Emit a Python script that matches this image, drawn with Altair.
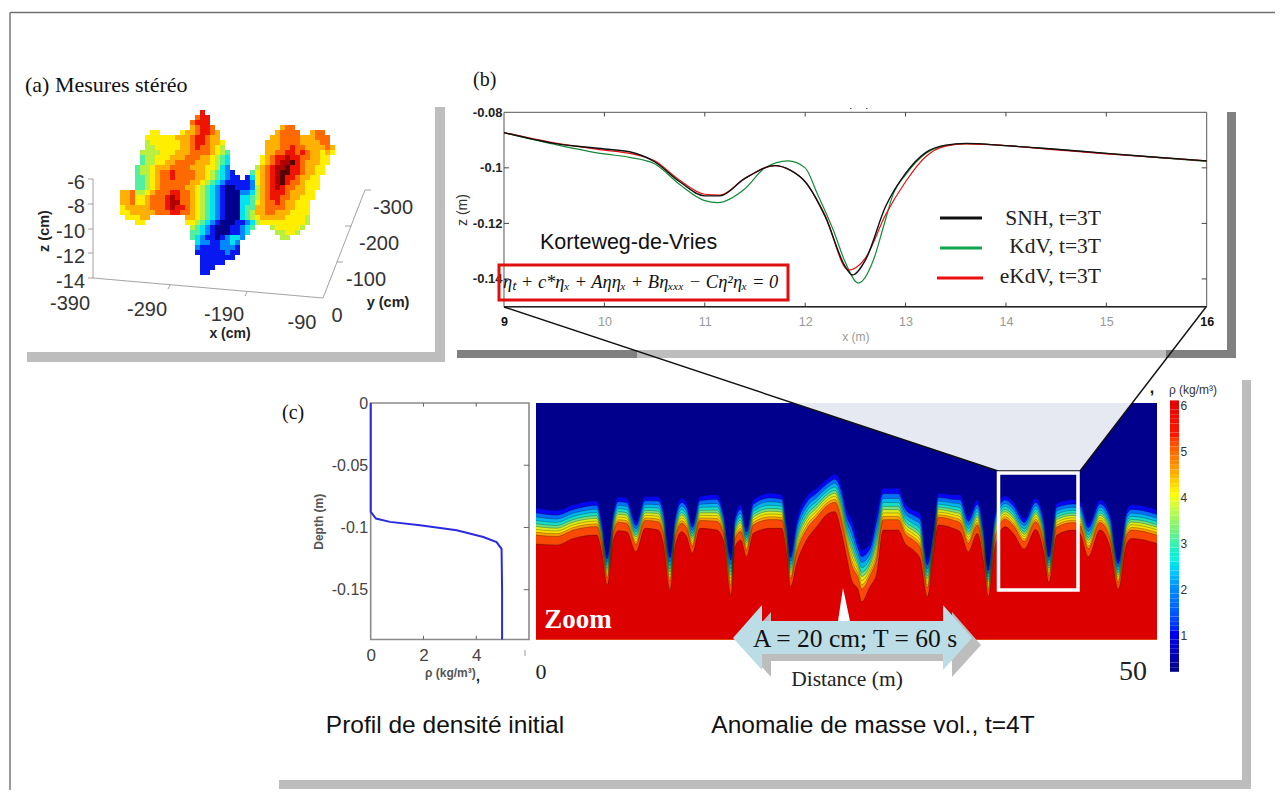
import altair as alt
import numpy as np
import pandas as pd

W, H = 1267, 782
SERIF, SANS = "Liberation Serif", "Liberation Sans"

# ---------- panel (b) curves ----------
snh_x = [9, 9.5, 10, 10.25, 10.5, 10.75, 11, 11.15, 11.4, 11.7, 11.85, 12, 12.2, 12.4, 12.47, 12.6, 12.8, 13, 13.2, 13.4, 13.6, 14, 14.5, 15, 15.5, 16]
snh_z = [-0.0873, -0.0912, -0.0932, -0.0942, -0.0978, -0.1050, -0.1101, -0.1101, -0.1038, -0.0992, -0.1008, -0.1050, -0.1176, -0.1356, -0.1386, -0.1332, -0.1140, -0.1020, -0.0945, -0.0918, -0.0912, -0.0920, -0.0933, -0.0948, -0.0962, -0.0975]
kdv_x = [9, 9.5, 10, 10.25, 10.5, 10.75, 11, 11.13, 11.4, 11.6, 11.83, 12, 12.12, 12.28, 12.4, 12.53, 12.68, 12.78, 12.88, 13, 13.2, 13.4, 13.6, 14, 14.5, 15, 15.5, 16]
kdv_z = [-0.0873, -0.0915, -0.0950, -0.0962, -0.0985, -0.1060, -0.1118, -0.1125, -0.1075, -0.1000, -0.0975, -0.1000, -0.1092, -0.1224, -0.1340, -0.1415, -0.1332, -0.1212, -0.1092, -0.1025, -0.0948, -0.0920, -0.0913, -0.0920, -0.0933, -0.0948, -0.0962, -0.0977]
ekdv_x = [9, 9.5, 10, 10.25, 10.5, 10.75, 11, 11.15, 11.4, 11.7, 11.85, 12, 12.2, 12.43, 12.6, 12.8, 13, 13.2, 13.4, 13.6, 14, 14.5, 15, 15.5, 16]
ekdv_z = [-0.0873, -0.0910, -0.0936, -0.0948, -0.0975, -0.1045, -0.1095, -0.1098, -0.1038, -0.0992, -0.1008, -0.1050, -0.1172, -0.1368, -0.1325, -0.1170, -0.1050, -0.0960, -0.0922, -0.0914, -0.0920, -0.0935, -0.0950, -0.0962, -0.0975]

# ---------- panel (c) density profile ----------
rho_vals = [0, 0, 0.2, 0.73, 1.87, 3.26, 4.27, 4.77, 4.96, 4.98, 4.98]
rho_depth = [0, -0.0874, -0.0928, -0.0955, -0.0982, -0.1023, -0.1077, -0.1118, -0.1172, -0.15, -0.19]

# ---------- panel (c) anomaly field: top and bottom of the pycnocline ----------
field_x = [0.0, 1.66, 3.01, 4.89, 5.29, 5.74, 6.23, 6.63, 7.30, 8.05, 8.78, 9.85, 10.25, 10.79, 11.19, 11.73, 12.13, 12.59, 13.20, 14.55, 15.08, 15.70, 16.02, 16.48, 16.96, 17.50, 18.84, 19.78, 20.18, 20.50, 20.99, 21.79, 22.60, 23.54, 24.07, 24.61, 25.01, 25.42, 25.95, 26.22, 26.89, 27.43, 27.96, 29.17, 29.71, 30.38, 30.92, 31.51, 32.0, 32.39, 33.6, 34.14, 34.81, 35.53, 36.02, 36.42, 36.95, 37.76, 38.43, 39.32, 40.23, 40.85, 41.30, 41.92, 43.26, 43.8, 44.47, 45.41, 46.21, 46.88, 47.56, 47.96, 50.0]
field_top = [-.0846, -.0865, -.0820, -.0787, -.0940, -.1222, -.0873, -.0758, -.0766, -.0954, -.0753, -.0753, -.0846, -.1208, -.0913, -.0766, -.0806, -.0967, -.0753, -.0739, -.0873, -.1222, -.0913, -.0820, -.1007, -.0779, -.0726, -.0739, -.0967, -.1208, -.0940, -.0753, -.0686, -.0605, -.0573, -.0672, -.0860, -.0940, -.1128, -.1181, -.1128, -.0887, -.0686, -.0686, -.0807, -.0861, -.0887, -.1263, -.1021, -.0727, -.0740, -.0740, -.0914, -.0780, -.0995, -.1316, -.0887, -.0748, -.0794, -.0928, -.0767, -.0914, -.1209, -.0807, -.0780, -.0794, -.0968, -.0780, -.0887, -.1263, -.0861, -.0820, -.0861]
field_bot = [-.1133, -.1141, -.1088, -.1061, -.1195, -.1463, -.1101, -.1026, -.1034, -.1195, -.1007, -.1021, -.1128, -.1503, -.1155, -.1034, -.1074, -.1208, -.1007, -.1021, -.1101, -.1543, -.1155, -.1101, -.1235, -.1047, -.1007, -.1007, -.1208, -.1476, -.1289, -.1101, -.0994, -.0887, -.0873, -.1047, -.1235, -.1423, -.1503, -.1597, -.1476, -.1369, -.1021, -.1021, -.1129, -.1182, -.1249, -.1557, -.1209, -.0981, -.1008, -.1035, -.1196, -.1048, -.1263, -.1557, -.1155, -.0995, -.1048, -.1174, -.1016, -.1182, -.1442, -.1062, -.1021, -.1048, -.1236, -.1021, -.1155, -.1498, -.1129, -.1088, -.1129]
band_frac = [0.0, 0.13, 0.24, 0.34, 0.43, 0.51, 0.59, 0.67, 0.75, 1.0]
band_cols = ["#0606f0", "#0070ff", "#00b4f0", "#18e0c8", "#70e080", "#d8ee20", "#ffe000", "#ffa000", "#f84a04", "#dc0000"]

# ---------- panel (a) surface, coded colour levels per row: "start:levels" ----------
surface_rows = [
    "16:9", "15:899", "14:8999", "14:78998 32:788",
    "6:66 12:67789987 31:78888 38:788",
    "5:666666777899877 30:7788887 37:77888",
    "5:5666666778998776 29:7778888777788",
    "5:5566666778988765 29:77788988777787",
    "4:555566677788887654 29:77889989877676",
    "4:455666777888776543 28:67899a99887766",
    "4:455667788887776543 28:6789aab9877766",
    "3:4556777888877766532 27:5789aab9987766",
    "3:45567889888877654321 26:46789abb9987766",
    "3:445678898888776543211 25:1 26:36789ab9987766",
    "3:4456788888877654321111 25:126789ab9887666",
    "3:445678888877654321001 24:112 27:5789a98877666",
    "0:778556788899887654321000 24:223 27:578999877766",
    "0:7786678889a9887654321000 24:334 27:578998877666",
    "0:7786678889aa887654321000 24:334 27:67889877666",
    "0:6777778889a9987654321000 24:344 27:77888877666",
    "0:667777788899887654321000 24:345 27:77887776666",
    "1:66677 13:77654321000 24:345 27:67777766665",
    "3:66 13:665432100011235666 31:6666665",
    "14:5432100011234 30:5666665",
    "14:443210001123 31:55665",
    "14:43211012332 32:55",
    "15:322112232", "15:211112221", "15:111111211",
    "16:1111111", "16:11111", "16:111", "16:11",
]
surface_cols = ["#00008c", "#0818f0", "#0088ff", "#00e4f0", "#50f0a0", "#b8f040", "#ffee00", "#ffb000", "#ff6a00", "#ee1400", "#b00000", "#580000"]
LEVELS = "0123456789ab"

# ---------- texts ----------
serif_left = [("(a) Mesures stéréo", 25, 85, 22, "#111"), ("(b)", 473, 80, 20, "#111"), ("(c)", 282, 413, 20, "#111")]
serif_center = [("A = 20 cm; T = 60 s", 855, 639, 25.5, "#111"), ("Distance (m)", 847, 680, 21.5, "#222"), ("0", 541, 672, 22, "#222"), ("50", 1133, 672, 28, "#222")]
serif_right = [("SNH, t=3T", 1101, 219, 21.5, "#222"), ("KdV, t=3T", 1101, 247, 21.5, "#222"), ("eKdV, t=3T", 1101, 277, 21.5, "#222")]
sans_center = [("Profil de densité initial", 445, 726, 24.5, "#111"), ("Anomalie de masse vol., t=4T", 873, 726, 24.5, "#111"),
               ("-390", 70, 304, 20, "#333"), ("-290", 147, 310, 20, "#333"), ("-190", 224, 315, 20, "#333"), ("-90", 302, 323, 20, "#333"), ("0", 337, 316, 20, "#333"),
               ("-300", 393, 208, 20, "#333"), ("-200", 379, 244, 20, "#333"), ("-100", 366, 280, 20, "#333"),
               ("ρ (kg/m³)", 1193, 390, 12, "#333")]
sans_right = [("-6", 85, 183, 20, "#333"), ("-8", 85, 207, 20, "#333"), ("-10", 85, 232, 20, "#333"), ("-12", 85, 257, 20, "#333"), ("-14", 85, 282, 20, "#333")]
bold_center = [("y (cm)", 388, 303, 14.5, "#222"), ("x (cm)", 230, 334, 14, "#222"), (",", 1152, 388, 16, "#111"), (",", 478, 677, 14, "#111")]
kdv_title = [("Korteweg-de-Vries", 540, 243, 21.5, "#111")]
formula = [("ηₜ + c*ηₓ + Aηηₓ + Bηₓₓₓ − Cη²ηₓ = 0", 503, 282, 18.5, "#111")]

HYPHEN = "replace(datum.label, '\u2212', '-')"

# ---------- scales ----------
def figx():
    return alt.Scale(domain=[8, 8 + W], range=[0, W], nice=False, zero=False)
def figy():
    return alt.Scale(domain=[8, 8 + H], range=[0, H], nice=False, zero=False)
def sc(dom, a, b):
    return alt.Scale(domain=dom, range=[a - 8, b - 8], nice=False, zero=False)
def bx(): return sc([9, 16], 504, 1206.7)
def by(): return sc([-0.15, -0.08], 306.7, 112.3)
def px_(): return sc([0, 6], 370.7, 529)
def dy(): return sc([-0.19, 0], 639.5, 403)
def fx_(): return sc([0, 50], 536, 1157)
def cby(): return sc([0.2, 6.1], 671.8, 400.4)

def fig_text(rows, font, align="center", weight="normal", style="normal", angle=0):
    df = pd.DataFrame(rows, columns=["t", "x", "y", "s", "c"])
    return alt.Chart(df).mark_text(font=font, align=align, baseline="middle", fontWeight=weight, fontStyle=style, angle=angle).encode(
        x=alt.X("x:Q", scale=figx(), axis=None), y=alt.Y("y:Q", scale=figy(), axis=None),
        text="t:N", size=alt.Size("s:Q", scale=None), color=alt.Color("c:N", scale=None))

def fig_rect(rows):
    df = pd.DataFrame(rows, columns=["x", "x2", "y", "y2", "c"])
    return alt.Chart(df).mark_rect().encode(
        x=alt.X("x:Q", scale=figx(), axis=None), x2="x2:Q",
        y=alt.Y("y:Q", scale=figy(), axis=None), y2="y2:Q", color=alt.Color("c:N", scale=None))

def fig_rule(rows, width=1.0):
    df = pd.DataFrame(rows, columns=["x", "x2", "y", "y2", "c"])
    return alt.Chart(df).mark_rule(strokeWidth=width).encode(
        x=alt.X("x:Q", scale=figx(), axis=None), x2="x2:Q",
        y=alt.Y("y:Q", scale=figy(), axis=None), y2="y2:Q", color=alt.Color("c:N", scale=None))

def fig_area(xs, ys, y2s, color):
    df = pd.DataFrame({"x": xs, "ya": ys, "yb": y2s})
    return alt.Chart(df).mark_area(color=color, interpolate="linear").encode(
        x=alt.X("x:Q", scale=figx(), axis=None), y=alt.Y("ya:Q", scale=figy(), axis=None, stack=None), y2="yb:Q")

def frame(xdom, ydom, xs, ys, color, width=1.0):
    df = pd.DataFrame({"x": [xdom[0]], "x2": [xdom[1]], "y": [ydom[0]], "y2": [ydom[1]]})
    return alt.Chart(df).mark_rect(fill="white", stroke=color, strokeWidth=width).encode(
        x=alt.X("x:Q", scale=xs, axis=None), x2="x2:Q", y=alt.Y("y:Q", scale=ys, axis=None), y2="y2:Q")

def ticks(vals, lo, hi, xs, ys, vertical, color):
    df = pd.DataFrame({"v": vals, "lo": lo, "hi": hi})
    if vertical:
        return alt.Chart(df).mark_rule(color=color, strokeWidth=1).encode(
            x=alt.X("v:Q", scale=xs, axis=None), y=alt.Y("lo:Q", scale=ys, axis=None), y2="hi:Q")
    return alt.Chart(df).mark_rule(color=color, strokeWidth=1).encode(
        y=alt.Y("v:Q", scale=ys, axis=None), x=alt.X("lo:Q", scale=xs, axis=None), x2="hi:Q")

layers = []

# page frame
layers.append(fig_rule([(10, 10, 12.5, 790, "#808080"), (10, 1275, 12.5, 12.5, "#707070")], 1.6))

# shadows
layers.append(fig_rect([
    (27, 445, 352, 362, "#bdbdbd"), (435, 445, 107, 362, "#bdbdbd"),
    (457, 1236, 350, 358, "#808080"), (1227, 1236, 112, 358, "#808080"), (637, 1166, 350, 358, "#bdbdbd"),
    (279, 1251, 780, 789, "#bdbdbd"), (1242, 1251, 380, 789, "#bdbdbd"),
    (850, 851.5, 108, 109, "#555555"), (866, 867.5, 108, 109, "#555555"),
]))

# panel (a)
cells = []
for r, row in enumerate(surface_rows):
    for part in row.split():
        start, codes = part.split(":")
        for k, ch in enumerate(codes):
            cells.append({"c": int(start) + k, "c2": int(start) + k + 1, "r": r, "r2": r + 1, "lev": ch})
layers.append(alt.Chart(pd.DataFrame(cells)).mark_rect().encode(
    x=alt.X("c:Q", scale=sc([0, 43], 120, 335), axis=None), x2="c2:Q",
    y=alt.Y("r:Q", scale=sc([0, 33], 110, 275), axis=None), y2="r2:Q",
    color=alt.Color("lev:N", scale=alt.Scale(domain=list(LEVELS), range=surface_cols), legend=None)))
layers.append(fig_rule([
    (93, 93, 179, 278, "#8a8a8a"), (93, 323, 278, 298, "#8a8a8a"), (323, 365, 298, 190, "#8a8a8a"),
    (93, 88, 179, 179, "#8a8a8a"), (93, 88, 204, 204, "#8a8a8a"), (93, 88, 229, 229, "#8a8a8a"), (93, 88, 253, 253, "#8a8a8a"), (93, 88, 278, 278, "#8a8a8a"),
    (170, 168, 285, 289, "#8a8a8a"), (247, 245, 292, 296, "#8a8a8a"), (337, 343, 262, 262, "#8a8a8a"), (351, 345, 226, 226, "#8a8a8a"), (365, 371, 190, 190, "#8a8a8a"),
], 0.8))
layers.append(fig_text(sans_center, SANS))
layers.append(fig_text(sans_right, SANS, align="right"))
layers.append(fig_text(bold_center, SANS, weight="bold"))
layers.append(fig_text([("z (cm)", 45, 231, 14.5, "#222")], SANS, weight="bold", angle=270))
layers.append(fig_text(serif_left, SERIF, align="left"))

# panel (b)
layers.append(frame([9, 16], [-0.15, -0.08], bx(), by(), "#555555", 1.0))
layers.append(ticks([10, 11, 12, 13, 14, 15], [-0.15] * 6, [-0.1485] * 6, bx(), by(), True, "#444"))
layers.append(ticks([10, 11, 12, 13, 14, 15], [-0.08] * 6, [-0.0815] * 6, bx(), by(), True, "#444"))
layers.append(ticks([-0.1, -0.12, -0.14], [15.95] * 3, [16] * 3, bx(), by(), False, "#444"))
layers.append(ticks([-0.1, -0.12, -0.14], [9] * 3, [9.05] * 3, bx(), by(), False, "#444"))
for xv, zv, col, wd in [(kdv_x, kdv_z, "#138a38", 1.2), (ekdv_x, ekdv_z, "#e81010", 1.2), (snh_x, snh_z, "#111111", 1.4)]:
    dfl = pd.DataFrame({"x": xv, "z": zv})
    layers.append(alt.Chart(dfl).mark_line(color=col, strokeWidth=wd, interpolate="monotone").encode(
        x=alt.X("x:Q", scale=bx(), axis=None), y=alt.Y("z:Q", scale=by(), axis=None)))
layers.append(alt.Chart(pd.DataFrame({"x": [9], "x2": [16], "z": [-0.15]})).mark_rule(color="#222", strokeWidth=1.4).encode(
    x=alt.X("x:Q", scale=bx(), axis=alt.Axis(
        values=[9, 10, 11, 12, 13, 14, 15, 16], orient="bottom", offset=306.7 - 8 - H, domain=False, ticks=False, grid=False,
        labelFont=SANS, labelFontSize=12.5, labelPadding=9, labelFlush=False,
        labelColor={"condition": {"test": "datum.value == 9 || datum.value == 16", "value": "#111"}, "value": "#999"},
        labelFontWeight={"condition": {"test": "datum.value == 9 || datum.value == 16", "value": "bold"}, "value": "normal"},
        title="x (m)", titleFont=SANS, titleFontSize=12, titleFontWeight="normal", titleColor="#999", titlePadding=3)),
    x2="x2:Q",
    y=alt.Y("z:Q", scale=by(), axis=alt.Axis(
        values=[-0.08, -0.1, -0.12, -0.14], orient="left", offset=-(504 - 8), domain=False, ticks=False, grid=False, format=".2~f",
        labelExpr=HYPHEN, labelFont=SANS, labelFontSize=13, labelPadding=2, labelColor="#222", labelFontWeight="bold",
        title="z (m)", titleFont=SANS, titleFontSize=14, titleFontWeight="normal", titleColor="#333", titlePadding=3))))
layers.append(fig_rule([(940, 982, 218, 218, "#111111")], 3))
layers.append(fig_rule([(940, 982, 248, 248, "#12a550")], 3))
layers.append(fig_rule([(937, 983, 278, 278, "#ee1010")], 3))
layers.append(fig_text(serif_right, SERIF, align="right"))
layers.append(fig_text(kdv_title, SANS, align="left"))
layers.append(fig_text(formula, SERIF, align="left", style="italic"))
df_box = pd.DataFrame({"x": [499], "x2": [788], "y": [265], "y2": [300]})
layers.append(alt.Chart(df_box).mark_rect(fill=None, stroke="#e01010", strokeWidth=3).encode(
    x=alt.X("x:Q", scale=figx(), axis=None), x2="x2:Q", y=alt.Y("y:Q", scale=figy(), axis=None), y2="y2:Q"))

# panel (c) profile
layers.append(frame([0, 6], [-0.19, 0], px_(), dy(), "#8a8a8a", 1.6))
layers.append(ticks([2, 4], [-0.19] * 2, [-0.187] * 2, px_(), dy(), True, "#666"))
layers.append(ticks([2, 4], [0] * 2, [-0.003] * 2, px_(), dy(), True, "#666"))
layers.append(ticks([-0.05, -0.1, -0.15], [5.8] * 3, [6] * 3, px_(), dy(), False, "#666"))
dfp = pd.DataFrame({"rho": rho_vals, "d": rho_depth, "i": range(len(rho_vals))})
layers.append(alt.Chart(dfp).mark_line(color="#2a2adf", strokeWidth=2).encode(
    x=alt.X("rho:Q", scale=px_(), axis=alt.Axis(
        values=[0, 2, 4], orient="bottom", offset=639.5 - 8 - H, domain=False, ticks=False, grid=False,
        labelFont=SANS, labelFontSize=17, labelPadding=8, labelColor="#444", labelFlush=False,
        title="ρ (kg/m³)", titleFont=SANS, titleFontSize=12, titleFontWeight="bold", titleColor="#555", titlePadding=4)),
    y=alt.Y("d:Q", scale=dy(), axis=alt.Axis(
        values=[0, -0.05, -0.1, -0.15], orient="left", offset=-(370.7 - 8), domain=False, ticks=False, grid=False, format=".2~f",
        labelExpr=HYPHEN, labelFont=SANS, labelFontSize=16, labelPadding=3, labelColor="#444", labelFlush=False,
        title="Depth (m)", titleFont=SANS, titleFontSize=12, titleFontWeight="bold", titleColor="#555", titlePadding=6)),
    order="i:Q"))
layers.append(fig_rule([(525, 525, 650, 656, "#999999")], 1))

# panel (c) field
layers.append(alt.Chart(pd.DataFrame({"x": [0], "x2": [50], "y": [-0.19], "y2": [0]})).mark_rect(color="#00008c").encode(
    x=alt.X("x:Q", scale=fx_(), axis=None), x2="x2:Q", y=alt.Y("y:Q", scale=dy(), axis=None), y2="y2:Q"))
rows = []
for lev, f in enumerate(band_frac):
    for x, t, b in zip(field_x, field_top, field_bot):
        rows.append({"x": x, "lev": lev, "d": t + f * (b - t), "floor": -0.19})
dff = pd.DataFrame(rows)
layers.append(alt.Chart(dff).mark_area(interpolate="monotone").encode(
    x=alt.X("x:Q", scale=fx_(), axis=None, stack=None), y=alt.Y("d:Q", scale=dy(), axis=None, stack=None), y2="floor:Q",
    color=alt.Color("lev:O", scale=alt.Scale(domain=list(range(len(band_frac))), range=band_cols), legend=None)))
layers.append(alt.Chart(dff[dff.lev > 0]).mark_line(interpolate="monotone", color="#000", strokeWidth=0.5, opacity=0.55).encode(
    x=alt.X("x:Q", scale=fx_(), axis=None), y=alt.Y("d:Q", scale=dy(), axis=None), detail="lev:O"))

# zoom cone and zoom box
layers.append(fig_area([793, 998, 1080, 1132], [403, 403, 403, 403], [403, 471, 471, 403], "#e6e8f2"))
layers.append(fig_rule([(504, 998, 307, 471, "#111111"), (1206, 1080, 307, 471, "#111111"), (998, 1080, 471, 471, "#111111")], 1.4))
df_zoom = pd.DataFrame({"x": [998.5], "x2": [1078], "y": [473], "y2": [590]})
layers.append(alt.Chart(df_zoom).mark_rect(fill=None, stroke="white", strokeWidth=3.5).encode(
    x=alt.X("x:Q", scale=figx(), axis=None), x2="x2:Q", y=alt.Y("y:Q", scale=figy(), axis=None), y2="y2:Q"))

# arrow
layers.append(fig_area([838, 843, 850], [621, 588, 621], [621, 621, 621], "white"))
ax = [733, 762, 762.01, 943, 943.01, 972]
ay = [638, 605, 621, 621, 605, 638]
ay2 = [638, 670, 654, 654, 670, 638]
layers.append(fig_area([v + 9 for v in ax], [v + 7 for v in ay], [v + 7 for v in ay2], "#bdbdbd"))
layers.append(fig_area(ax, ay, ay2, "#bcdde6"))
layers.append(fig_text(serif_center, SERIF))
layers.append(fig_text([("Zoom", 578, 620, 27, "#ffffff")], SERIF, weight="bold"))

# colour bar
cb_vals = [round(v, 2) for v in np.arange(0.2, 6.1, 0.1)]
dfcb = pd.DataFrame({"v": cb_vals, "v2": [round(v + 0.1, 2) for v in cb_vals], "a": [0] * len(cb_vals), "b": [1] * len(cb_vals)})
layers.append(alt.Chart(dfcb).mark_rect().encode(
    x=alt.X("a:Q", scale=sc([0, 1], 1170, 1179), axis=None), x2="b:Q",
    y=alt.Y("v:Q", scale=cby(), axis=alt.Axis(
        values=[1, 2, 3, 4, 5, 6], orient="right", offset=1179 - 8 - W, domain=False, ticks=False, grid=False, title=None,
        labelFont=SANS, labelFontSize=12, labelPadding=1, labelColor="#333", labelFlush=False)),
    y2="v2:Q",
    color=alt.Color("v:Q", legend=None, scale=alt.Scale(
        domain=[0.2, 1, 2, 2.6, 3.2, 4, 4.7, 5.3, 6.1],
        range=["#00008c", "#0000f5", "#0090ff", "#10f0e0", "#70f080", "#ffff00", "#ff8800", "#ff1800", "#dd0000"]))))

chart = alt.layer(*layers).resolve_scale(x="independent", y="independent", color="independent").properties(
    width=W, height=H, padding=0, background="white",
    autosize=alt.AutoSizeParams(type="none"),
).configure_view(stroke=None)
chart.save("out.html", embed_options={"renderer": "svg", "actions": False})
